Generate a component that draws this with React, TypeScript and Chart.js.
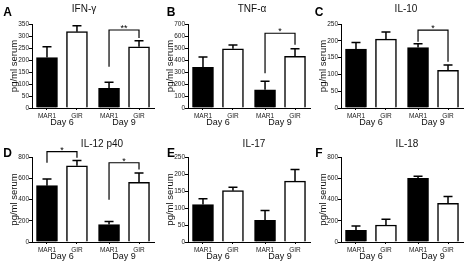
import React, { useEffect, useRef } from 'react';
import { Chart, registerables } from 'chart.js';

Chart.register(...registerables);

const FONT = '"Liberation Sans", Arial, Helvetica, sans-serif';
Chart.defaults.font.family = FONT;

// ---- data ----
const barLabels = ['MAR1', 'GIR', 'MAR1', 'GIR'];
const dayLabels = ['Day 6', 'Day 9'];
const barPositions = [0, 1, 2.07, 3.07];
const barColors = ['#000000', '#ffffff', '#000000', '#ffffff'];

const ifnMean = [210, 318, 82, 255];
const ifnSem = [45, 25, 25, 25];
const tnfMean = [338, 494, 152, 430];
const tnfSem = [86, 32, 70, 63];
const il10Mean = [175, 205, 180, 112];
const il10Sem = [20, 21, 11, 16];
const il12Mean = [530, 718, 165, 562];
const il12Sem = [64, 50, 27, 88];
const il17Mean = [110, 151, 64, 179];
const il17Sem = [17, 10, 29, 34];
const il18Mean = [110, 160, 600, 365];
const il18Sem = [40, 53, 19, 63];

// significance brackets: [fromBar, toBar, topValue, leftLegEnd, rightLegEnd, mark]
type Bracket = [number, number, number, number, number, string];
const ifnBrackets: Bracket[] = [[2, 3, 325, 172, 292, '**']];
const tnfBrackets: Bracket[] = [[2, 3, 623, 290, 528, '*']];
const il10Brackets: Bracket[] = [[2, 3, 232, 197, 138, '*']];
const il12Brackets: Bracket[] = [
  [0, 1, 850, 746, 793, '*'],
  [2, 3, 746, 397, 683, '*'],
];
const il17Brackets: Bracket[] = [];
const il18Brackets: Bracket[] = [];

const yTitle = 'pg/ml serum';

interface Panel {
  letter: string;
  title: string;
  mean: number[];
  sem: number[];
  max: number;
  step: number;
  brackets: Bracket[];
  col: number;
  row: number;
  titleX: number;
}

const panels: Panel[] = [
  { letter: 'A', title: 'IFN-γ', mean: ifnMean, sem: ifnSem, max: 350, step: 50, brackets: ifnBrackets, col: 0, row: 0, titleX: 84 },
  { letter: 'B', title: 'TNF-α', mean: tnfMean, sem: tnfSem, max: 700, step: 100, brackets: tnfBrackets, col: 1, row: 0, titleX: 252 },
  { letter: 'C', title: 'IL-10', mean: il10Mean, sem: il10Sem, max: 250, step: 50, brackets: il10Brackets, col: 2, row: 0, titleX: 406 },
  { letter: 'D', title: 'IL-12 p40', mean: il12Mean, sem: il12Sem, max: 800, step: 100, brackets: il12Brackets, col: 0, row: 1, titleX: 102 },
  { letter: 'E', title: 'IL-17', mean: il17Mean, sem: il17Sem, max: 250, step: 50, brackets: il17Brackets, col: 1, row: 1, titleX: 254 },
  { letter: 'F', title: 'IL-18', mean: il18Mean, sem: il18Sem, max: 800, step: 100, brackets: il18Brackets, col: 2, row: 1, titleX: 407 },
];

// ---- layout ----
const colLeft = [0, 156, 309];
const colWidth = [155, 155, 163];
const colLetterX = [7.5, 171, 319];
const rowTop = [0, 132];
const rowPadTop = [24, 25];
const rowXHeight = [24, 22];
const rowTitleY = [9, 144];
const rowLetterY = [12, 153];
const Y_AXIS_W = 32;
const PLOT_W = 122;
const CANVAS_H = 132;

function PanelChart({ p }: { p: Panel }) {
  const ref = useRef<HTMLCanvasElement | null>(null);
  useEffect(() => {
    if (!ref.current) return;
    const width = colWidth[p.col];
    const padRight = width - Y_AXIS_W - PLOT_W;
    const annot = {
      id: 'annot' + p.letter,
      afterDatasetsDraw(chart: any) {
        const ctx = chart.ctx;
        const meta = chart.getDatasetMeta(0);
        const ys = chart.scales.y;
        const xs = chart.scales.x;
        ctx.save();
        // error bars (upper)
        ctx.strokeStyle = '#000';
        ctx.lineWidth = 1.5;
        p.mean.forEach((m, i) => {
          const bx = meta.data[i].x;
          const y1 = ys.getPixelForValue(m);
          const y2 = ys.getPixelForValue(m + p.sem[i]);
          ctx.beginPath();
          ctx.moveTo(bx, y1);
          ctx.lineTo(bx, y2);
          ctx.moveTo(bx - 4.5, y2);
          ctx.lineTo(bx + 4.5, y2);
          ctx.stroke();
        });
        // brackets
        ctx.lineWidth = 1.2;
        ctx.fillStyle = '#000';
        p.brackets.forEach((b) => {
          const xa = xs.getPixelForValue(barPositions[b[0]]);
          const xb = xs.getPixelForValue(barPositions[b[1]]);
          const yt = ys.getPixelForValue(b[2]);
          const yl = ys.getPixelForValue(b[3]);
          const yr = ys.getPixelForValue(b[4]);
          ctx.beginPath();
          ctx.moveTo(xa, yl);
          ctx.lineTo(xa, yt);
          ctx.lineTo(xb, yt);
          ctx.lineTo(xb, yr);
          ctx.stroke();
          ctx.font = '9px ' + FONT;
          ctx.textAlign = 'center';
          ctx.textBaseline = 'alphabetic';
          ctx.fillText(b[5], (xa + xb) / 2, yt + 1);
        });
        // day labels
        ctx.font = '9px ' + FONT;
        ctx.fillStyle = '#111';
        ctx.textAlign = 'center';
        ctx.textBaseline = 'middle';
        dayLabels.forEach((d, k) => {
          const cx = (xs.getPixelForValue(barPositions[2 * k]) + xs.getPixelForValue(barPositions[2 * k + 1])) / 2;
          ctx.fillText(d, cx, chart.chartArea.bottom + 14.5);
        });
        ctx.restore();
      },
    };
    const chart = new Chart(ref.current, {
      type: 'bar',
      data: {
        datasets: [
          {
            data: p.mean.map((v, i) => ({ x: barPositions[i], y: v })),
            backgroundColor: barColors,
            borderColor: '#000',
            borderWidth: 1.5,
            barThickness: 21,
          } as any,
        ],
      },
      options: {
        animation: false,
        responsive: false,
        layout: { padding: { top: rowPadTop[p.row], right: padRight, left: 0, bottom: 0 } },
        plugins: { legend: { display: false }, tooltip: { enabled: false } },
        scales: {
          x: {
            type: 'linear',
            offset: false,
            min: -0.5,
            max: 3.57,
            afterBuildTicks: (s: any) => {
              s.ticks = barPositions.map((v) => ({ value: v }));
            },
            afterFit: (s: any) => {
              s.height = rowXHeight[p.row];
            },
            ticks: {
              callback: (_v: any, i: number) => barLabels[i],
              font: { size: 6.5 },
              color: '#222',
              padding: 2,
              autoSkip: false,
              maxRotation: 0,
            },
            grid: { drawOnChartArea: false, offset: false, tickLength: 2, color: '#000' },
            border: { color: '#000', width: 1 },
          },
          y: {
            min: 0,
            max: p.max,
            afterFit: (s: any) => {
              s.width = Y_AXIS_W;
            },
            ticks: { stepSize: p.step, font: { size: 6.5 }, color: '#222', padding: 0 },
            grid: { drawOnChartArea: false, tickLength: 3, color: '#000' },
            border: { color: '#000', width: 1 },
            title: {
              display: true,
              text: yTitle,
              font: { size: 9.5 },
              color: '#111',
              padding: { top: 9, bottom: 0 },
            },
          },
        },
      } as any,
      plugins: [annot],
    });
    return () => chart.destroy();
  }, [p]);
  return (
    <canvas
      ref={ref}
      width={colWidth[p.col]}
      height={CANVAS_H}
      style={{ position: 'absolute', left: colLeft[p.col], top: rowTop[p.row], width: colWidth[p.col], height: CANVAS_H }}
    />
  );
}

export default function App() {
  return (
    <div style={{ position: 'fixed', left: 0, top: 0, width: 472, height: 264, background: '#fff', overflow: 'hidden', fontFamily: FONT }}>
      {panels.map((p) => (
        <PanelChart key={p.letter} p={p} />
      ))}
      {panels.map((p) => (
        <div
          key={'t' + p.letter}
          style={{ position: 'absolute', left: p.titleX, top: rowTitleY[p.row], transform: 'translate(-50%, -50%)', fontSize: 10, lineHeight: 1, color: '#111', whiteSpace: 'nowrap' }}
        >
          {p.title}
        </div>
      ))}
      {panels.map((p) => (
        <div
          key={'l' + p.letter}
          style={{ position: 'absolute', left: colLetterX[p.col], top: rowLetterY[p.row], transform: 'translate(-50%, -50%)', fontSize: 12, fontWeight: 'bold', lineHeight: 1, color: '#000' }}
        >
          {p.letter}
        </div>
      ))}
    </div>
  );
}
